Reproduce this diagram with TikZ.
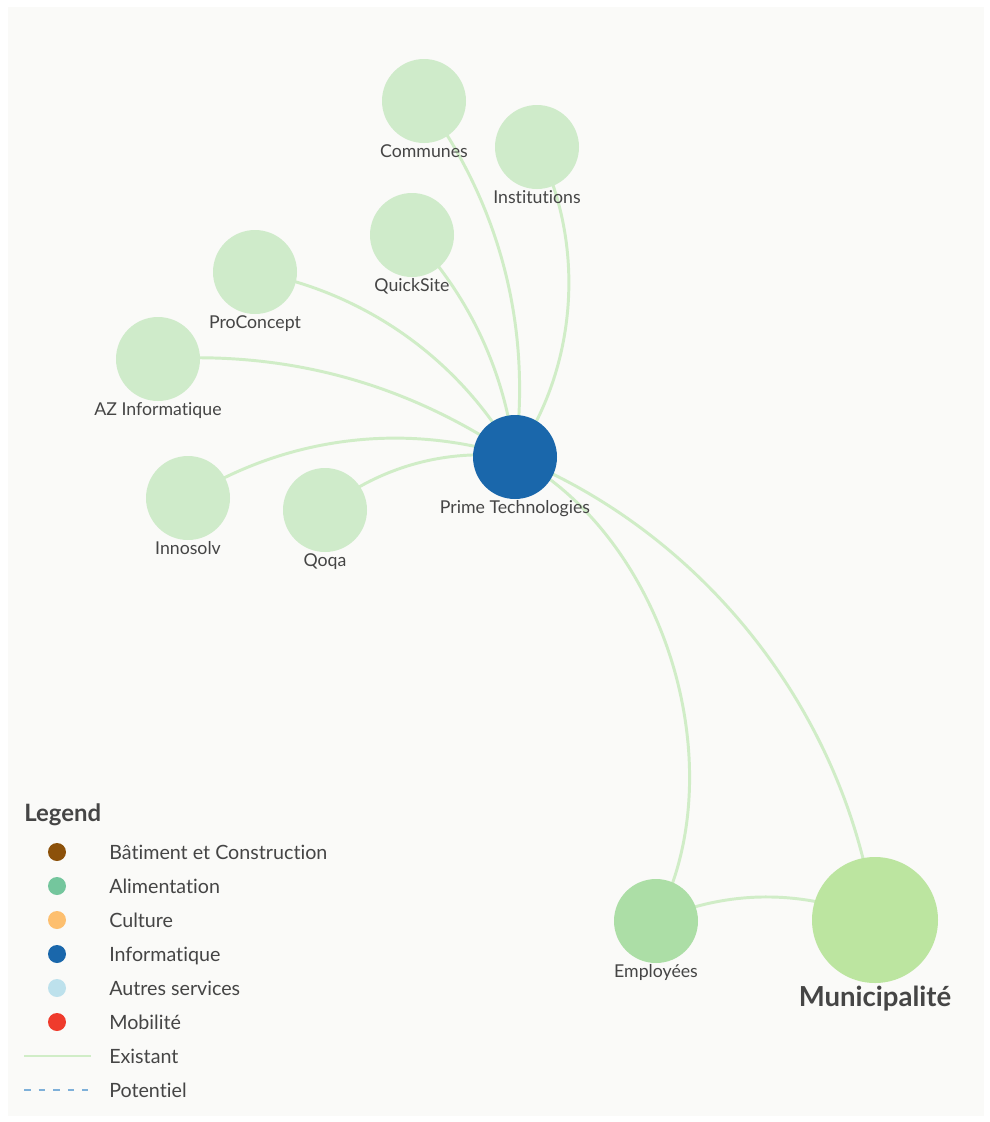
\documentclass[tikz,border=0pt]{standalone}
\usepackage{fontspec}
\setmainfont{Lato}[Ligatures=NoCommon]
\usepackage{tikz}
\usetikzlibrary{positioning}

\definecolor{panelbg}{HTML}{FAFAF8}
\definecolor{leafgreen}{HTML}{CFEBCA}
\definecolor{staffgreen}{HTML}{ACDEA6}
\definecolor{munigreen}{HTML}{BCE5A0}
\definecolor{itblue}{HTML}{1A67AB}
\definecolor{linkgreen}{HTML}{D0EDC7}
\definecolor{labelgray}{HTML}{454545}
\definecolor{keybrown}{HTML}{8C510A}
\definecolor{keygreen}{HTML}{74C69D}
\definecolor{keyorange}{HTML}{FDBF6F}
\definecolor{keylightblue}{HTML}{BDE1EC}
\definecolor{keyred}{HTML}{EF3B2C}
\definecolor{potentialblue}{HTML}{7EB0D9}

\pgfdeclarelayer{panel}
\pgfdeclarelayer{links}
\pgfsetlayers{panel,links,main}

\begin{document}
\begin{tikzpicture}[
    actor/.style={circle, fill=leafgreen, minimum size=2.1cm, inner sep=0pt},
    lbl/.style={font=\fontsize{12.6}{14}\selectfont, text=labelgray, inner sep=0pt, text height=9pt, text depth=0pt},
    link/.style={draw=linkgreen, line width=2.1pt, looseness=0.9},
    swatch/.style={circle, minimum size=0.45cm, inner sep=0pt},
    keytext/.style={font=\fontsize{14}{16}\selectfont, text=labelgray, anchor=west, inner sep=0pt, text height=10pt, text depth=0pt}
]
\useasboundingbox (0,0) rectangle (24.75,-28.05);

% Background panel
\begin{pgfonlayer}{panel}
\fill[panelbg] (0.2,-0.175) rectangle (24.6,-27.9);
\end{pgfonlayer}

% Hub
\node[actor, fill=itblue] (prime) at (12.875, -11.425) {};
\node[lbl, below=0.04cm of prime] (primeL) {Prime Technologies};

% Partners around the hub
\node[actor] (communes) at (10.6, -2.525) {};
\node[lbl, below=0.04cm of communes] (communesL) {Communes};

\node[actor] (institutions) at (13.425, -3.675) {};
\node[lbl, below=0.04cm of institutions] (institutionsL) {Institutions};

\node[actor] (quicksite) at (10.3, -5.875) {};
\node[lbl, below=0.04cm of quicksite] (quicksiteL) {QuickSite};

\node[actor] (proconcept) at (6.375, -6.8) {};
\node[lbl, below=0.04cm of proconcept] (proconceptL) {ProConcept};

\node[actor] (azinfo) at (3.95, -8.975) {};
\node[lbl, below=0.04cm of azinfo] (azinfoL) {AZ Informatique};

\node[actor] (innosolv) at (4.7, -12.45) {};
\node[lbl, below=0.04cm of innosolv] (innosolvL) {Innosolv};

\node[actor] (qoqa) at (8.125, -12.75) {};
\node[lbl, below=0.04cm of qoqa] (qoqaL) {Qoqa};

% Municipality side
\node[actor, fill=staffgreen] (employees) at (16.4, -23.025) {};
\node[lbl, below=0.04cm of employees] (employeesL) {Employées};

\node[actor, fill=munigreen, minimum size=3.15cm] (muni) at (21.875, -23.0) {};
\node[lbl, font=\fontsize{19.6}{22}\selectfont\bfseries, text height=14pt, below=0.07cm of muni] (muniL) {Municipalité};

% Links (existing), centre to centre behind the circles
\begin{pgfonlayer}{links}
\draw[link] (communes.center) to[bend left=22] (prime.center);
\draw[link] (institutions.center) to[bend left=31] (prime.center);
\draw[link] (quicksite.center) to[bend left=18] (prime.center);
\draw[link] (proconcept.center) to[bend left=25] (prime.center);
\draw[link] (azinfo.center) to[bend left=19] (prime.center);
\draw[link] (innosolv.center) to[bend left=25] (prime.center);
\draw[link] (qoqa.center) to[bend left=23] (prime.center);
\draw[link] (prime.center) to[bend left=45] (employees.center);
\draw[link] (prime.center) to[bend left=30] (muni.center);
\draw[link] (employees.center) to[bend left=24] (muni.center);
\end{pgfonlayer}

% Legend
\node[anchor=base west, inner sep=0pt, text=labelgray, font=\fontsize{17}{19}\selectfont\bfseries] (legendT) at (0.6, -20.525) {Legend};

\node[swatch, fill=keybrown] (keyBat) at (1.425, -21.3) {};
\node[keytext] (keyBatT) at (2.725, -21.3) {Bâtiment et Construction};

\node[swatch, fill=keygreen] (keyAli) at (1.425, -22.15) {};
\node[keytext] (keyAliT) at (2.725, -22.15) {Alimentation};

\node[swatch, fill=keyorange] (keyCul) at (1.425, -23.0) {};
\node[keytext] (keyCulT) at (2.725, -23.0) {Culture};

\node[swatch, fill=itblue] (keyInf) at (1.425, -23.85) {};
\node[keytext] (keyInfT) at (2.725, -23.85) {Informatique};

\node[swatch, fill=keylightblue] (keyAut) at (1.425, -24.7) {};
\node[keytext] (keyAutT) at (2.725, -24.7) {Autres services};

\node[swatch, fill=keyred] (keyMob) at (1.425, -25.55) {};
\node[keytext] (keyMobT) at (2.725, -25.55) {Mobilité};

\coordinate (exA) at (0.6, -26.4);
\coordinate (exB) at (2.275, -26.4);
\draw[link] (exA) -- (exB);
\node[keytext] (keyExT) at (2.725, -26.4) {Existant};

\coordinate (poA) at (0.6, -27.25);
\coordinate (poB) at (2.2, -27.25);
\draw[draw=potentialblue, line width=1.4pt, dash pattern=on 4.7pt off 5.7pt] (poA) -- (poB);
\node[keytext] (keyPoT) at (2.725, -27.25) {Potentiel};

\end{tikzpicture}
\end{document}
